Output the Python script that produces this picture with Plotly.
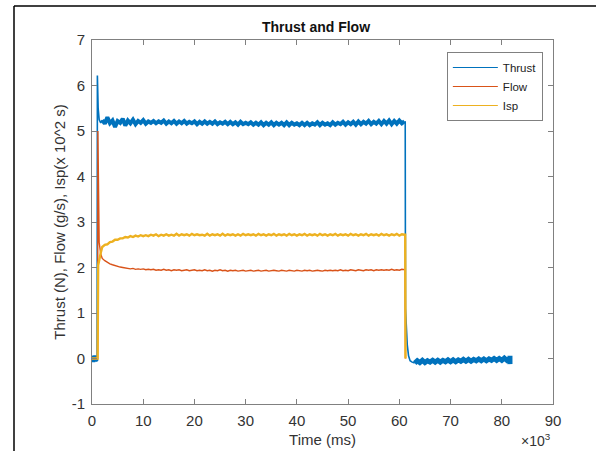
import plotly.graph_objects as go

# ---- data (time in units of 10^3 ms) ----
plateau_time = [2.0, 2.5, 3.0, 3.5, 4.0, 4.5, 5.0, 5.5, 6.0, 6.5,
                7.0, 7.5, 8.0, 8.5, 9.0, 9.5, 10.0, 10.5, 11.0, 11.5,
                12.0, 12.5, 13.0, 13.5, 14.0, 14.5, 15.0, 15.5, 16.0, 16.5,
                17.0, 17.5, 18.0, 18.5, 19.0, 19.5, 20.0, 20.5, 21.0, 21.5,
                22.0, 22.5, 23.0, 23.5, 24.0, 24.5, 25.0, 25.5, 26.0, 26.5,
                27.0, 27.5, 28.0, 28.5, 29.0, 29.5, 30.0, 30.5, 31.0, 31.5,
                32.0, 32.5, 33.0, 33.5, 34.0, 34.5, 35.0, 35.5, 36.0, 36.5,
                37.0, 37.5, 38.0, 38.5, 39.0, 39.5, 40.0, 40.5, 41.0, 41.5,
                42.0, 42.5, 43.0, 43.5, 44.0, 44.5, 45.0, 45.5, 46.0, 46.5,
                47.0, 47.5, 48.0, 48.5, 49.0, 49.5, 50.0, 50.5, 51.0, 51.5,
                52.0, 52.5, 53.0, 53.5, 54.0, 54.5, 55.0, 55.5, 56.0, 56.5,
                57.0, 57.5, 58.0, 58.5, 59.0, 59.5, 60.0, 60.5, 61.0]

thrust_plateau = [5.24, 5.16, 5.30, 5.17, 5.23, 5.09, 5.22, 5.18, 5.27, 5.12,
                  5.23, 5.17, 5.25, 5.15, 5.22, 5.18, 5.24, 5.16, 5.21, 5.18,
                  5.22, 5.17, 5.21, 5.18, 5.23, 5.16, 5.21, 5.17, 5.22, 5.16,
                  5.21, 5.17, 5.22, 5.16, 5.20, 5.17, 5.21, 5.15, 5.20, 5.16,
                  5.21, 5.16, 5.20, 5.16, 5.21, 5.15, 5.19, 5.16, 5.20, 5.15,
                  5.20, 5.15, 5.19, 5.14, 5.20, 5.15, 5.18, 5.15, 5.19, 5.14,
                  5.18, 5.14, 5.19, 5.13, 5.18, 5.14, 5.19, 5.13, 5.18, 5.14,
                  5.18, 5.13, 5.19, 5.13, 5.18, 5.14, 5.17, 5.13, 5.18, 5.13,
                  5.18, 5.13, 5.17, 5.14, 5.19, 5.13, 5.18, 5.14, 5.17, 5.13,
                  5.19, 5.14, 5.18, 5.15, 5.20, 5.14, 5.19, 5.15, 5.20, 5.14,
                  5.21, 5.15, 5.20, 5.16, 5.22, 5.15, 5.20, 5.16, 5.22, 5.15,
                  5.22, 5.16, 5.23, 5.15, 5.22, 5.16, 5.23, 5.17, 5.21]

isp_plateau = [2.45, 2.50, 2.51, 2.56, 2.57, 2.61, 2.61, 2.64, 2.64, 2.67,
               2.66, 2.69, 2.67, 2.70, 2.68, 2.71, 2.69, 2.71, 2.69, 2.72,
               2.70, 2.73, 2.69, 2.72, 2.70, 2.73, 2.70, 2.72, 2.70, 2.74,
               2.70, 2.73, 2.71, 2.73, 2.70, 2.74, 2.71, 2.73, 2.71, 2.72,
               2.70, 2.74, 2.70, 2.73, 2.71, 2.73, 2.70, 2.74, 2.70, 2.73,
               2.71, 2.73, 2.70, 2.73, 2.70, 2.74, 2.71, 2.73, 2.71, 2.73,
               2.70, 2.74, 2.71, 2.73, 2.70, 2.73, 2.71, 2.74, 2.70, 2.73,
               2.71, 2.73, 2.70, 2.74, 2.71, 2.73, 2.70, 2.73, 2.71, 2.74,
               2.70, 2.73, 2.71, 2.73, 2.70, 2.74, 2.71, 2.73, 2.70, 2.73,
               2.71, 2.74, 2.70, 2.73, 2.71, 2.73, 2.70, 2.74, 2.71, 2.73,
               2.70, 2.73, 2.71, 2.74, 2.70, 2.73, 2.71, 2.73, 2.70, 2.74,
               2.71, 2.73, 2.70, 2.73, 2.71, 2.74, 2.70, 2.73, 2.72]

flow_plateau = [2.20, 2.15, 2.11, 2.08, 2.06, 2.04, 2.03, 2.01, 2.00, 1.99,
                1.99, 1.97, 1.98, 1.96, 1.97, 1.96, 1.97, 1.95, 1.96, 1.95,
                1.96, 1.94, 1.95, 1.94, 1.96, 1.94, 1.95, 1.93, 1.95, 1.94,
                1.95, 1.93, 1.94, 1.95, 1.93, 1.94, 1.95, 1.93, 1.94, 1.93,
                1.95, 1.93, 1.94, 1.92, 1.94, 1.93, 1.95, 1.93, 1.94, 1.92,
                1.94, 1.93, 1.94, 1.92, 1.93, 1.94, 1.92, 1.93, 1.94, 1.92,
                1.93, 1.94, 1.92, 1.93, 1.94, 1.92, 1.93, 1.94, 1.93, 1.92,
                1.94, 1.93, 1.92, 1.94, 1.93, 1.92, 1.94, 1.93, 1.92, 1.94,
                1.93, 1.94, 1.92, 1.93, 1.94, 1.93, 1.92, 1.94, 1.93, 1.94,
                1.93, 1.94, 1.93, 1.95, 1.93, 1.94, 1.93, 1.95, 1.94, 1.93,
                1.95, 1.94, 1.93, 1.95, 1.94, 1.95, 1.93, 1.95, 1.94, 1.95,
                1.94, 1.95, 1.94, 1.96, 1.94, 1.95, 1.94, 1.96, 1.95]

# start-up transients
thrust_pre_time = [0.0, 0.1, 0.2, 0.3, 0.4, 0.5, 0.6, 0.7, 0.8, 0.9]
thrust_pre = [0.05, -0.07, 0.06, -0.08, 0.05, -0.06, 0.07, -0.07, 0.05, -0.06]
thrust_start_time = [0.9, 1.0, 1.05, 1.2, 1.4, 1.7, 2.0]
thrust_start = [-0.06, 0.0, 6.22, 5.5, 5.25, 5.18, 5.24]
flow_start_time = [0.0, 0.5, 1.0, 1.1, 1.15, 1.25, 1.4, 1.7]
flow_start = [0.0, 0.0, 0.0, 0.0, 5.0, 3.4, 2.55, 2.3]
isp_start_time = [0.0, 0.5, 1.0, 1.1, 1.2, 1.4, 1.7]
isp_start = [0.0, 0.0, 0.0, 0.0, 2.05, 2.2, 2.32]

# shut-down transients and tail
thrust_drop_time = [61.0, 61.15, 61.2, 61.35, 61.55, 61.8, 62.1, 62.5, 63.0]
thrust_drop = [5.21, 5.2, 1.1, 0.6, 0.3, 0.06, -0.05, -0.08, -0.10]
thrust_tail_time = [63.0, 63.5, 64.0, 64.5, 65.0, 65.5, 66.0, 66.5, 67.0, 67.5,
                    68.0, 68.5, 69.0, 69.5, 70.0, 70.5, 71.0, 71.5, 72.0, 72.5,
                    73.0, 73.5, 74.0, 74.5, 75.0, 75.5, 76.0, 76.5, 77.0, 77.5,
                    78.0, 78.5, 79.0, 79.5, 80.0, 80.5, 81.0, 81.5, 81.6, 81.6]
thrust_tail = [-0.10, -0.05, -0.09, -0.04, -0.09, -0.05, -0.08, -0.04, -0.08, -0.04,
               -0.08, -0.04, -0.07, -0.03, -0.07, -0.03, -0.07, -0.03, -0.06, -0.02,
               -0.06, -0.02, -0.06, -0.02, -0.05, -0.01, -0.05, -0.01, -0.05, -0.01,
               -0.04, 0.00, -0.04, 0.00, -0.04, 0.01, -0.04, 0.00, -0.12, 0.06]
flow_end_time = [61.15, 61.2]
flow_end = [1.95, 0.0]
isp_end_time = [61.15, 61.2]
isp_end = [2.72, 0.0]

x_ticks = [0, 10, 20, 30, 40, 50, 60, 70, 80, 90]
y_ticks = [-1, 0, 1, 2, 3, 4, 5, 6, 7]

series_names = ["Thrust", "Flow", "Isp"]
colors = ["#0072BD", "#D95319", "#EDB120"]

fig = go.Figure()
# Thrust (segments drawn with widths that mimic the noisy band)
thrust_segments = [
    (thrust_pre_time, thrust_pre, 3.5),
    (thrust_start_time, thrust_start, 1.6),
    (plateau_time, thrust_plateau, 4.0),
    (thrust_drop_time, thrust_drop, 1.6),
    (thrust_tail_time, thrust_tail, 5.0),
]
for xs, ys, w in thrust_segments:
    fig.add_trace(go.Scatter(x=xs, y=ys, mode="lines", showlegend=False,
                             line=dict(color=colors[0], width=w)))

flow_x = flow_start_time + plateau_time + flow_end_time
flow_y = flow_start + flow_plateau + flow_end
isp_x = isp_start_time + plateau_time + isp_end_time
isp_y = isp_start + isp_plateau + isp_end
fig.add_trace(go.Scatter(x=flow_x, y=flow_y, mode="lines", showlegend=False,
                         line=dict(color=colors[1], width=1.4)))
fig.add_trace(go.Scatter(x=isp_x, y=isp_y, mode="lines", showlegend=False,
                         line=dict(color=colors[2], width=2.4)))

# thin legend samples
for name, c in zip(series_names, colors):
    fig.add_trace(go.Scatter(x=[None], y=[None], mode="lines", name=name,
                             line=dict(color=c, width=1)))

font_family = "Liberation Sans, Arial, Helvetica, sans-serif"
axis_color = "#808080"

fig.update_layout(
    width=596, height=451,
    margin=dict(l=92, r=43, t=40, b=47),
    paper_bgcolor="white", plot_bgcolor="white",
    font=dict(family=font_family, size=15, color="#333333"),
    title=dict(text="<b>Thrust and Flow</b>", x=(316 - 92) / 461, xref="paper",
               y=1 - 27 / 451, yanchor="middle", xanchor="center",
               font=dict(size=14, color="#111111")),
    showlegend=True,
    legend=dict(x=0.978, y=0.967, xanchor="right", yanchor="top",
                bgcolor="white", bordercolor="#808080", borderwidth=1,
                font=dict(size=11.5, color="#222222"),
                tracegroupgap=0, itemwidth=45),
    xaxis=dict(range=[0, 90], tickvals=x_ticks, ticktext=[str(v) for v in x_ticks],
               automargin=False,
               showgrid=False, zeroline=False, showline=True, linecolor=axis_color,
               linewidth=1, mirror="ticks", ticks="inside", ticklen=5,
               tickcolor=axis_color, tickfont=dict(size=15), ticklabelstandoff=3,
               title=dict(text="Time (ms)", standoff=6, font=dict(size=15))),
    yaxis=dict(range=[-1, 7], tickvals=y_ticks, ticktext=[str(v) for v in y_ticks],
               automargin=False,
               showgrid=False, zeroline=False, showline=True, linecolor=axis_color,
               linewidth=1, mirror="ticks", ticks="inside", ticklen=5,
               tickcolor=axis_color, tickfont=dict(size=15), ticklabelstandoff=3,
               title=dict(text="Thrust (N), Flow (g/s), Isp(x 10^2 s)", standoff=2,
                          font=dict(size=15))),
    annotations=[dict(text="×10<sup>3</sup>", xref="paper", yref="paper",
                      x=1.0, y=-0.1, xanchor="right", yanchor="middle",
                      showarrow=False, font=dict(size=14, color="#333333"))],
    shapes=[
        dict(type="line", xref="paper", yref="paper",
             x0=(14 - 92) / 461, x1=1.2, y0=(404 - 6) / 364, y1=(404 - 6) / 364,
             line=dict(color="black", width=1.5)),
        dict(type="line", xref="paper", yref="paper",
             x0=(14 - 92) / 461, x1=(14 - 92) / 461, y0=(404 - 6) / 364, y1=-0.2,
             line=dict(color="black", width=1.5)),
    ],
)

fig.write_html("out.html", config={"displayModeBar": False},
               post_script="document.body.style.margin='0px';document.body.style.padding='0px';")
